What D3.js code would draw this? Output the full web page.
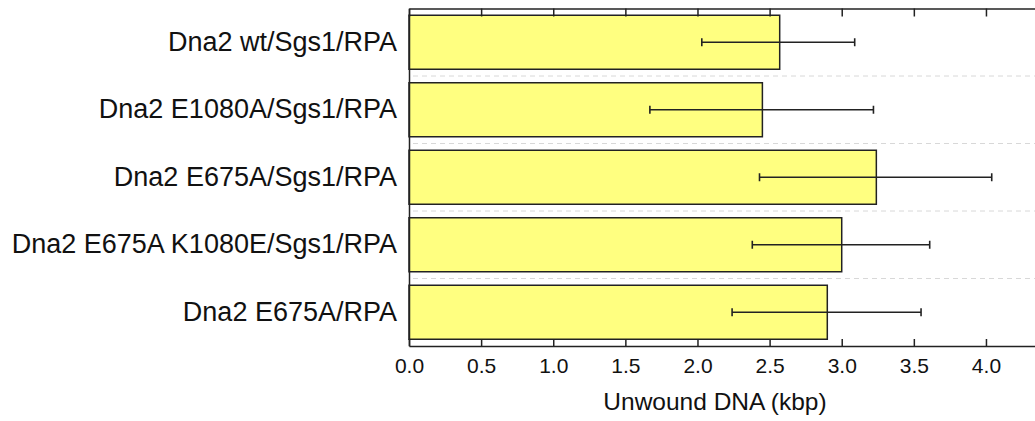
<!DOCTYPE html>
<html>
<head>
<meta charset="utf-8">
<script src="https://cdn.jsdelivr.net/npm/d3@7"></script>
<style>
  body { margin: 0; background: #fff; }
  svg { display: block; font-family: "Liberation Sans", Arial, sans-serif; }
</style>
</head>
<body>
<div id="grafico"></div>
<script>
// dados
const categorias = [
  'Dna2 wt/Sgs1/RPA',
  'Dna2 E1080A/Sgs1/RPA',
  'Dna2 E675A/Sgs1/RPA',
  'Dna2 E675A K1080E/Sgs1/RPA',
  'Dna2 E675A/RPA'
];
const valores = [2.57, 2.45, 3.24, 3.00, 2.90];
const erroMin = [2.03, 1.67, 2.43, 2.38, 2.24];
const erroMax = [3.09, 3.22, 4.04, 3.61, 3.55];
const ticksX = [0, 0.5, 1, 1.5, 2, 2.5, 3, 3.5, 4];

const width = 1035, height = 421;
const esq = 409, dir = 1035, topo = 8.5, base = 346;

const svg = d3.select('#grafico')
  .append('svg')
  .attr('width', width)
  .attr('height', height);

const x = d3.scaleLinear().domain([0, 4.34]).range([esq, dir]);
const y = d3.scaleBand().domain(categorias).range([topo, base])
  .paddingInner(0.2).paddingOuter(0.1);

// linhas tracejadas entre as faixas
const limites = categorias.slice(1).map(c => y(c) - y.step() * y.paddingInner() / 2);
svg.selectAll('line.grade')
  .data(limites)
  .enter()
  .append('line')
  .attr('class', 'grade')
  .attr('x1', esq + 4)
  .attr('x2', dir)
  .attr('y1', d => d)
  .attr('y2', d => d)
  .attr('stroke', '#d8d8d8')
  .attr('stroke-width', 1)
  .attr('stroke-dasharray', '5,4');

// barras
svg.selectAll('rect.barra')
  .data(categorias)
  .enter()
  .append('rect')
  .attr('class', 'barra')
  .attr('x', x(0))
  .attr('y', d => y(d))
  .attr('width', (d, i) => x(valores[i]) - x(0))
  .attr('height', y.bandwidth())
  .attr('fill', '#ffff80')
  .attr('stroke', '#222')
  .attr('stroke-width', 1.5);

// barras de erro
const erros = svg.append('g').attr('stroke', '#222').attr('stroke-width', 1.6);
categorias.forEach((c, i) => {
  const cy = y(c) + y.bandwidth() / 2;
  erros.append('line')
    .attr('x1', x(erroMin[i])).attr('x2', x(erroMax[i]))
    .attr('y1', cy).attr('y2', cy);
  [erroMin[i], erroMax[i]].forEach(v => {
    erros.append('line')
      .attr('x1', x(v)).attr('x2', x(v))
      .attr('y1', cy - 4).attr('y2', cy + 4);
  });
});

// eixos
const eixoBaixo = svg.append('g')
  .attr('transform', `translate(0,${base})`)
  .call(d3.axisBottom(x).tickValues(ticksX).tickFormat(d3.format('.1f'))
    .tickSizeInner(-7).tickSizeOuter(0).tickPadding(12));
eixoBaixo.select('.domain').attr('stroke', '#222').attr('stroke-width', 1.5);
eixoBaixo.selectAll('.tick line').attr('stroke', '#222').attr('stroke-width', 1.5);
eixoBaixo.selectAll('.tick text')
  .attr('font-size', 21)
  .attr('fill', '#111')
  .attr('font-family', '"Liberation Sans", Arial, sans-serif');

const eixoTopo = svg.append('g')
  .attr('transform', `translate(0,${topo})`)
  .call(d3.axisTop(x).tickValues(ticksX).tickFormat('')
    .tickSizeInner(-8).tickSizeOuter(0));
eixoTopo.select('.domain').attr('stroke', '#222').attr('stroke-width', 1.5);
eixoTopo.selectAll('.tick line').attr('stroke', '#222').attr('stroke-width', 1.5);

const eixoEsq = svg.append('g')
  .attr('transform', `translate(${esq},0)`)
  .call(d3.axisLeft(y).tickSize(0).tickPadding(12));
eixoEsq.select('.domain').attr('stroke', '#222').attr('stroke-width', 1.5);
eixoEsq.selectAll('.tick text')
  .attr('font-size', 27)
  .attr('fill', '#111')
  .attr('font-family', '"Liberation Sans", Arial, sans-serif');

// titulo do eixo x
svg.append('text')
  .attr('x', 715)
  .attr('y', 410)
  .attr('text-anchor', 'middle')
  .attr('font-size', 24.5)
  .attr('fill', '#111')
  .text('Unwound DNA (kbp)');
</script>
</body>
</html>
